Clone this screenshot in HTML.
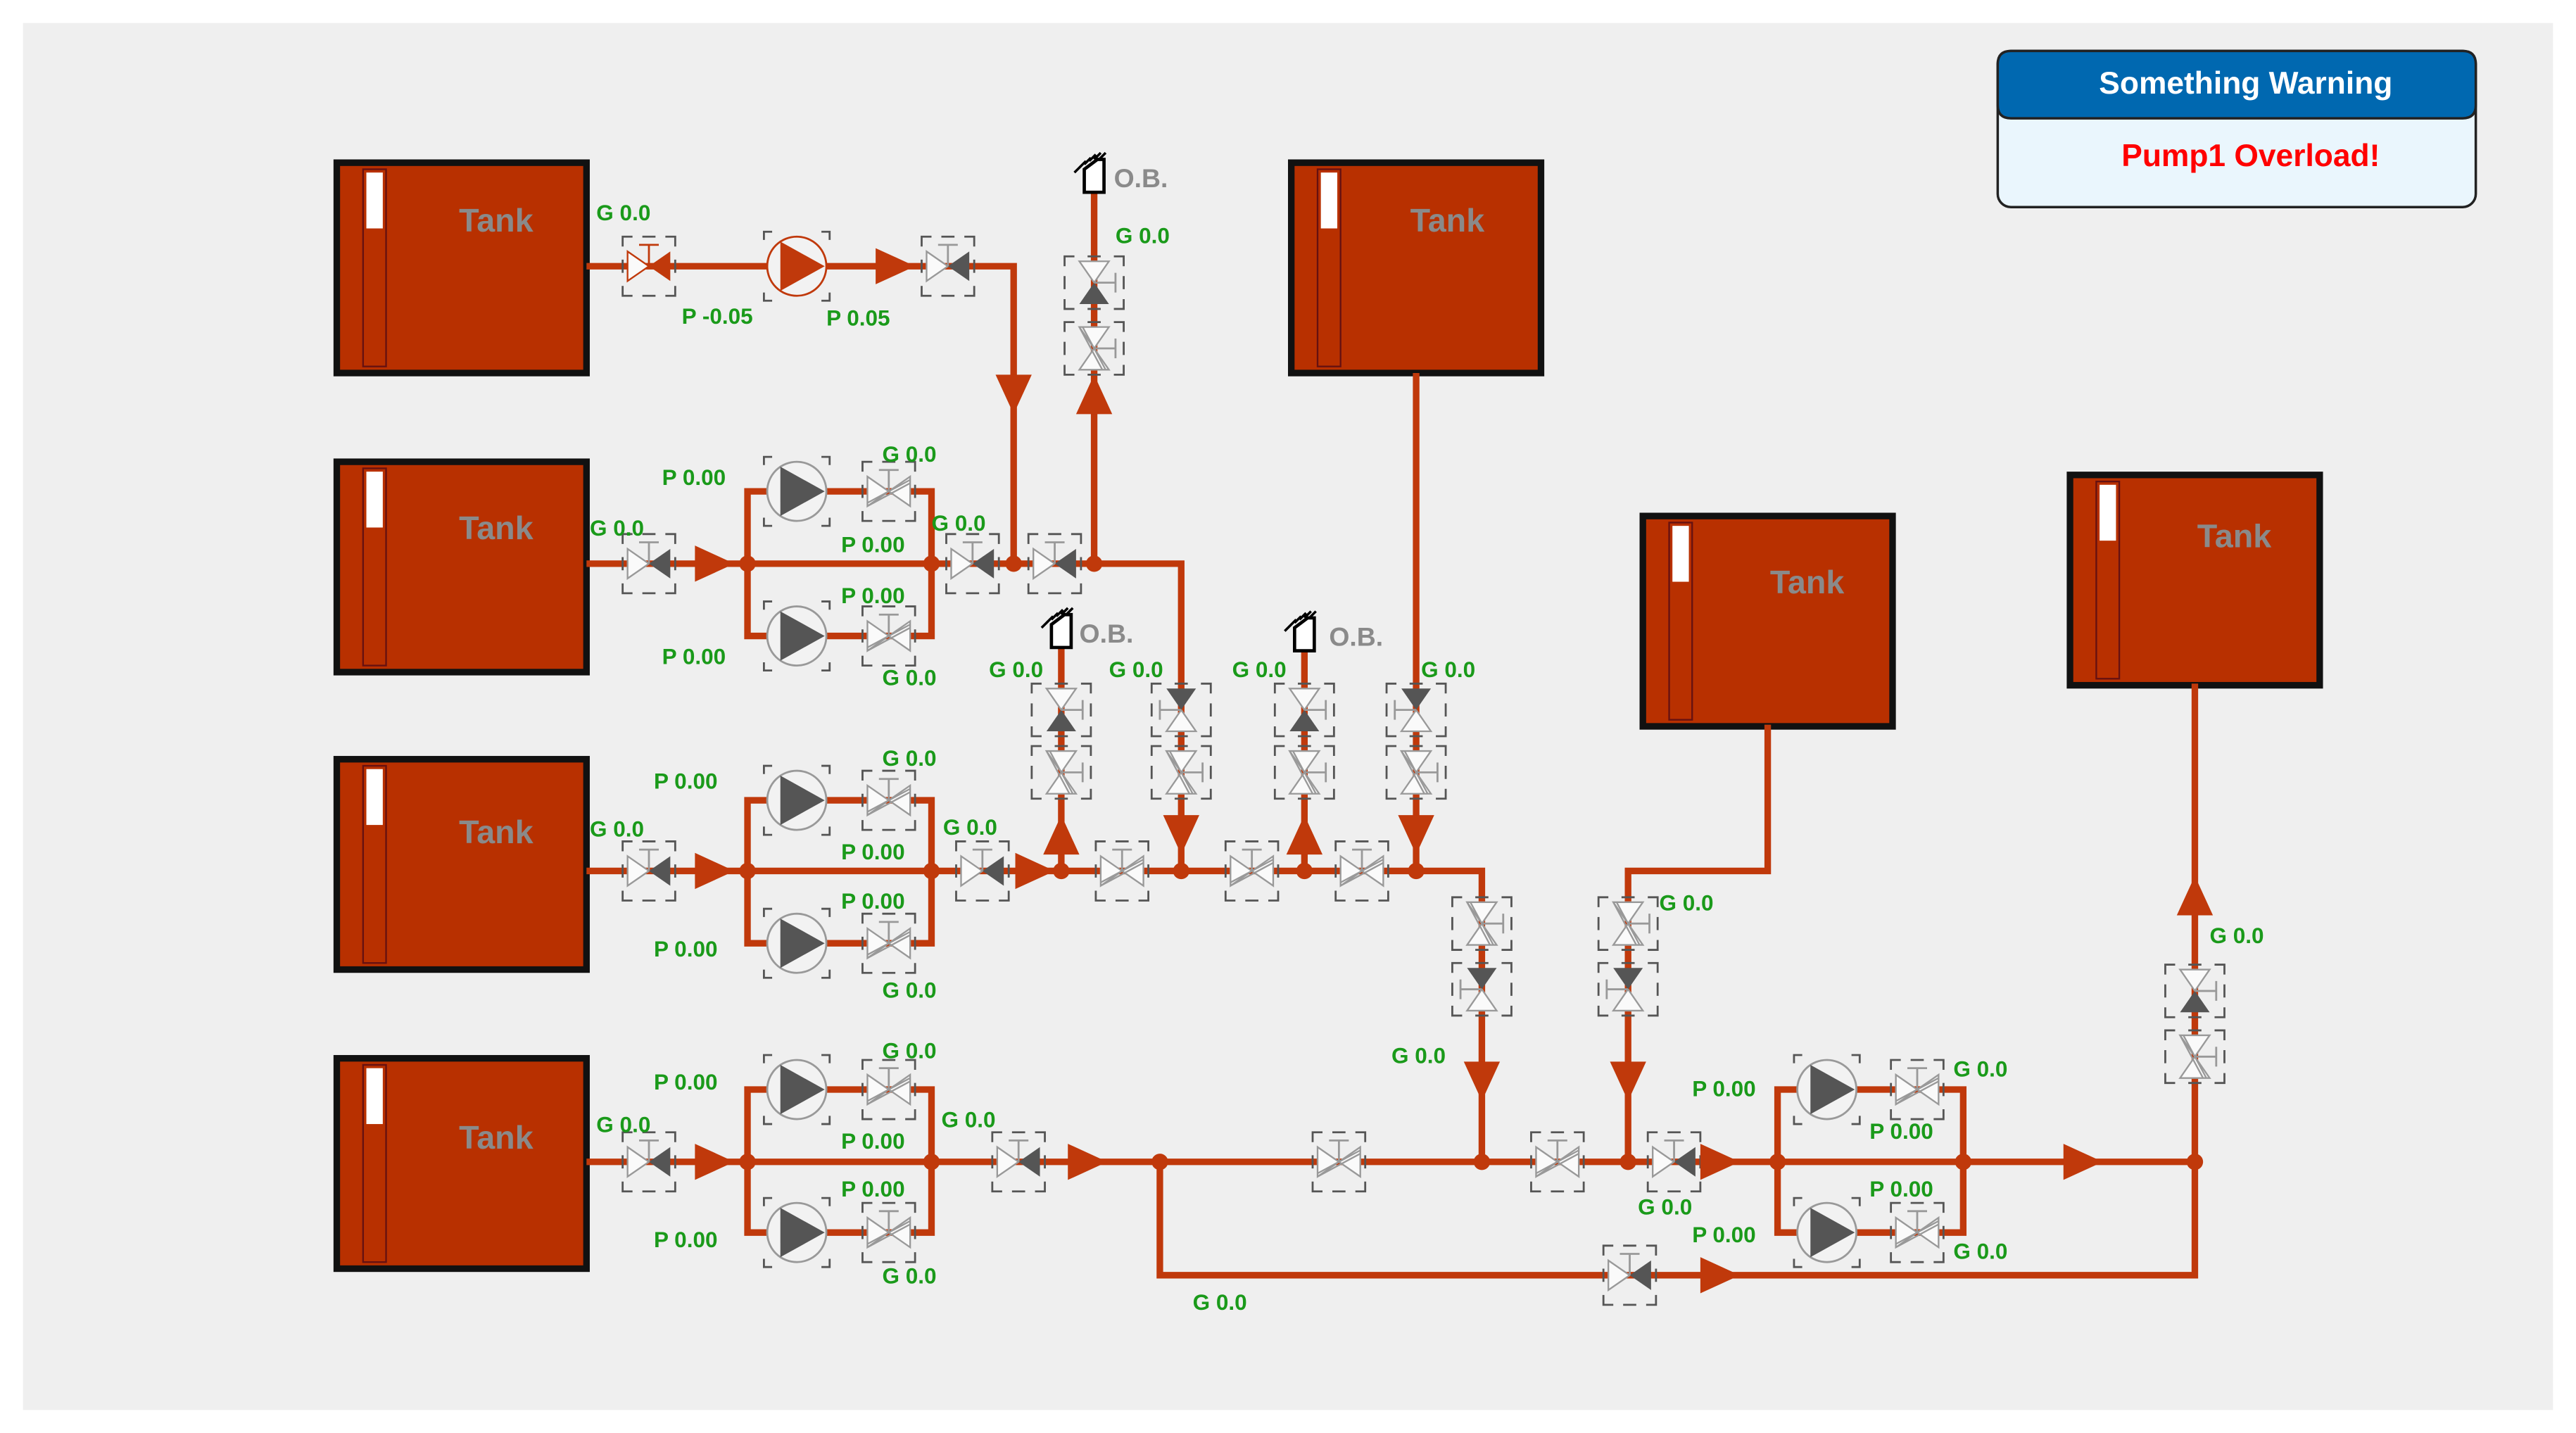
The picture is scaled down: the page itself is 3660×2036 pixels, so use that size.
<!DOCTYPE html>
<html><head><meta charset="utf-8"><style>
html,body{margin:0;padding:0;background:#fff;}
svg{display:block;}
text{font-family:"Liberation Sans",sans-serif;}
.g{fill:#1a9a1a;font-weight:bold;font-size:13.5px;}
.t{fill:#8a8a8a;font-size:20px;font-weight:bold;}
.ob{fill:#8a8a8a;font-size:16px;font-weight:bold;}
.p{stroke:#c0390b;stroke-width:4;fill:none;}
</style></head><body>
<svg width="3660" height="2036" viewBox="0 0 1568 872" preserveAspectRatio="none" xmlns="http://www.w3.org/2000/svg">
<defs>
<g id="br">
<path d="M-16,-12 v-6 h6 M10,-18 h6 v6 M16,12 v6 h-6 M-10,18 h-6 v-6" stroke="#555" stroke-width="1.2" fill="none"/>
<path d="M-4,-18 h8 M-4,18 h8 M-16,-4 v8 M16,-4 v8" stroke="#555" stroke-width="1.2" fill="none"/>
</g>
<g id="vh">
<use href="#br"/>
<polygon points="-13,-9 0,0 -13,9" fill="#fafafa" stroke="#999" stroke-width="1"/>
<polygon points="13,-9 0,0 13,9" fill="#555"/>
<path d="M0,0 V-13 M-6,-13 H6" stroke="#999" stroke-width="1.2"/>
</g>
<g id="vx">
<use href="#br"/>
<polygon points="-13,-9 0,0 -13,9" fill="#fafafa" stroke="#999" stroke-width="1"/>
<polygon points="13,-9 0,0 13,9" fill="#fafafa" stroke="#999" stroke-width="1"/>
<path d="M-13,7 L13,-7 M-13,9 L13,-5" stroke="#999" stroke-width="1"/>
<path d="M0,0 V-13 M-6,-13 H6" stroke="#999" stroke-width="1.2"/>
</g>
<g id="pump">
<path d="M-20,-16 v-5 h5 M15,-21 h5 v5 M20,16 v5 h-5 M-15,21 h-5 v-5" stroke="#555" stroke-width="1.2" fill="none"/>
<circle r="18" fill="#f2f2f2" stroke="#999" stroke-width="1.2"/>
<polygon points="-10,-15 17,0 -10,15" fill="#555"/>
</g>
<polygon id="ar" points="-12,-11 12,0 -12,11" fill="#c0390b"/>
<g id="tank">
<rect x="0" y="0" width="152" height="128" fill="#b83000" stroke="#111" stroke-width="4"/>
<rect x="16" y="4" width="14" height="120" fill="none" stroke="#611" stroke-width="1"/>
<rect x="18" y="6" width="10" height="34" fill="#fff"/>
</g>
<g id="ob">
<path d="M-6,14 V0 L2,-6 H6 V14 Z" fill="#fff" stroke="#000" stroke-width="2"/>
<path d="M-8,-2 L-12,2 M-5,-5 L-9,-1 M-2,-7 L-6,-3 M1,-9 L-3,-5 M4,-10 L0,-6 M7,-10 L3,-6" stroke="#000" stroke-width="1.5"/>
</g>
</defs>
<rect width="1568" height="872" fill="#fff"/>
<rect x="14" y="14" width="1540" height="844" fill="#efefef"/>

<use href="#tank" x="205" y="99"/>
<use href="#tank" x="205" y="281"/>
<use href="#tank" x="205" y="462"/>
<use href="#tank" x="205" y="644"/>
<use href="#tank" x="786" y="99"/>
<use href="#tank" x="1000" y="314"/>
<use href="#tank" x="1260" y="289"/>
<text class="t" x="302" y="141" text-anchor="middle">Tank</text>
<text class="t" x="302" y="328" text-anchor="middle">Tank</text>
<text class="t" x="302" y="513" text-anchor="middle">Tank</text>
<text class="t" x="302" y="699" text-anchor="middle">Tank</text>
<text class="t" x="881" y="141" text-anchor="middle">Tank</text>
<text class="t" x="1100" y="361" text-anchor="middle">Tank</text>
<text class="t" x="1360" y="333" text-anchor="middle">Tank</text>

<path class="p" d="M357,162 H617 V343"/>
<path class="p" d="M357,343 H666 H719 V530"/>
<path class="p" d="M666,343 V115"/>
<path class="p" d="M455,343 V299 H567 V387 H455 Z"/>
<path class="p" d="M357,530 H902 V707"/>
<path class="p" d="M455,530 V487 H567 V574 H455 Z"/>
<path class="p" d="M646,530 V392 M794,530 V392 M862,227 V530"/>
<path class="p" d="M357,707 H1336 V416"/>
<path class="p" d="M455,707 V663 H567 V750 H455 Z"/>
<path class="p" d="M1082,707 V663 H1195 V750 H1082 Z"/>
<path class="p" d="M706,707 V776 H1336 V707"/>
<path class="p" d="M1076,441 V530 H991 V707"/>

<g fill="#c0390b">
<circle cx="455" cy="343" r="5"/><circle cx="567" cy="343" r="5"/><circle cx="617" cy="343" r="5"/><circle cx="666" cy="343" r="5"/>
<circle cx="455" cy="530" r="5"/><circle cx="567" cy="530" r="5"/><circle cx="646" cy="530" r="5"/><circle cx="719" cy="530" r="5"/><circle cx="794" cy="530" r="5"/><circle cx="862" cy="530" r="5"/>
<circle cx="455" cy="707" r="5"/><circle cx="567" cy="707" r="5"/><circle cx="706" cy="707" r="5"/><circle cx="902" cy="707" r="5"/><circle cx="991" cy="707" r="5"/><circle cx="1082" cy="707" r="5"/><circle cx="1195" cy="707" r="5"/><circle cx="1336" cy="707" r="5"/>
</g>

<g transform="translate(395,162)">
<use href="#br"/>
<polygon points="-13,-9 0,0 -13,9" fill="#fafafa" stroke="#c0390b" stroke-width="1"/>
<polygon points="13,-9 0,0 13,9" fill="#c0390b"/>
<path d="M0,0 V-13 M-6,-13 H6" stroke="#c0390b" stroke-width="1.2"/>
</g>
<g transform="translate(485,162)">
<path d="M-20,-16 v-5 h5 M15,-21 h5 v5 M20,16 v5 h-5 M-15,21 h-5 v-5" stroke="#555" stroke-width="1.2" fill="none"/>
<circle r="18" fill="#f2f2f2" stroke="#c0390b" stroke-width="1.2"/>
<polygon points="-10,-15 17,0 -10,15" fill="#c0390b"/>
</g>
<use href="#ar" transform="translate(545,162)"/>
<use href="#vh" transform="translate(577,162)"/>
<use href="#ar" transform="translate(617,240) rotate(90)"/>
<use href="#vh" transform="translate(666,172) rotate(90)"/>
<use href="#vx" transform="translate(666,212) rotate(90)"/>
<use href="#ar" transform="translate(666,240) rotate(-90)"/>
<use href="#ob" transform="translate(666,103)"/>

<use href="#vh" transform="translate(395,343)"/>
<use href="#ar" transform="translate(435,343)"/>
<use href="#pump" transform="translate(485,299)"/>
<use href="#pump" transform="translate(485,387)"/>
<use href="#vx" transform="translate(541,299)"/>
<use href="#vx" transform="translate(541,387)"/>
<use href="#vh" transform="translate(592,343)"/>
<use href="#vh" transform="translate(642,343)"/>

<use href="#ob" transform="translate(646,380)"/>
<use href="#ob" transform="translate(794,382)"/>
<use href="#vh" transform="translate(646,432) rotate(90)"/>
<use href="#vx" transform="translate(646,470) rotate(90)"/>
<use href="#ar" transform="translate(646,508) rotate(-90)"/>
<use href="#vh" transform="translate(719,432) rotate(-90)"/>
<use href="#vx" transform="translate(719,470) rotate(90)"/>
<use href="#ar" transform="translate(719,508) rotate(90)"/>
<use href="#vh" transform="translate(794,432) rotate(90)"/>
<use href="#vx" transform="translate(794,470) rotate(90)"/>
<use href="#ar" transform="translate(794,508) rotate(-90)"/>
<use href="#vh" transform="translate(862,432) rotate(-90)"/>
<use href="#vx" transform="translate(862,470) rotate(90)"/>
<use href="#ar" transform="translate(862,508) rotate(90)"/>

<use href="#vh" transform="translate(395,530)"/>
<use href="#ar" transform="translate(435,530)"/>
<use href="#pump" transform="translate(485,487)"/>
<use href="#pump" transform="translate(485,574)"/>
<use href="#vx" transform="translate(541,487)"/>
<use href="#vx" transform="translate(541,574)"/>
<use href="#vh" transform="translate(598,530)"/>
<use href="#ar" transform="translate(630,530)"/>
<use href="#vx" transform="translate(683,530)"/>
<use href="#vx" transform="translate(762,530)"/>
<use href="#vx" transform="translate(829,530)"/>
<use href="#vx" transform="translate(902,562) rotate(90)"/>
<use href="#vh" transform="translate(902,602) rotate(-90)"/>
<use href="#ar" transform="translate(902,658) rotate(90)"/>
<use href="#vx" transform="translate(991,562) rotate(90)"/>
<use href="#vh" transform="translate(991,602) rotate(-90)"/>
<use href="#ar" transform="translate(991,658) rotate(90)"/>

<use href="#vh" transform="translate(395,707)"/>
<use href="#ar" transform="translate(435,707)"/>
<use href="#pump" transform="translate(485,663)"/>
<use href="#pump" transform="translate(485,750)"/>
<use href="#vx" transform="translate(541,663)"/>
<use href="#vx" transform="translate(541,750)"/>
<use href="#vh" transform="translate(620,707)"/>
<use href="#ar" transform="translate(662,707)"/>
<use href="#vx" transform="translate(815,707)"/>
<use href="#vx" transform="translate(948,707)"/>
<use href="#vh" transform="translate(1019,707)"/>
<use href="#ar" transform="translate(1047,707)"/>
<use href="#pump" transform="translate(1112,663)"/>
<use href="#pump" transform="translate(1112,750)"/>
<use href="#vx" transform="translate(1167,663)"/>
<use href="#vx" transform="translate(1167,750)"/>
<use href="#ar" transform="translate(1268,707)"/>
<use href="#vh" transform="translate(992,776)"/>
<use href="#ar" transform="translate(1047,776)"/>
<use href="#vh" transform="translate(1336,603) rotate(90)"/>
<use href="#vx" transform="translate(1336,643) rotate(90)"/>
<use href="#ar" transform="translate(1336,545) rotate(-90)"/>

<text class="g" x="363" y="134">G 0.0</text>
<text class="g" x="415" y="197">P -0.05</text>
<text class="g" x="503" y="198">P 0.05</text>
<text class="g" x="679" y="148">G 0.0</text>
<text class="ob" x="678" y="114">O.B.</text>
<text class="ob" x="657" y="391">O.B.</text>
<text class="ob" x="809" y="393">O.B.</text>

<text class="g" x="403" y="295">P 0.00</text>
<text class="g" x="537" y="281">G 0.0</text>
<text class="g" x="359" y="326">G 0.0</text>
<text class="g" x="512" y="336">P 0.00</text>
<text class="g" x="567" y="323">G 0.0</text>
<text class="g" x="512" y="367">P 0.00</text>
<text class="g" x="403" y="404">P 0.00</text>
<text class="g" x="537" y="417">G 0.0</text>

<text class="g" x="602" y="412">G 0.0</text>
<text class="g" x="675" y="412">G 0.0</text>
<text class="g" x="750" y="412">G 0.0</text>
<text class="g" x="865" y="412">G 0.0</text>

<text class="g" x="398" y="480">P 0.00</text>
<text class="g" x="537" y="466">G 0.0</text>
<text class="g" x="359" y="509">G 0.0</text>
<text class="g" x="512" y="523">P 0.00</text>
<text class="g" x="574" y="508">G 0.0</text>
<text class="g" x="512" y="553">P 0.00</text>
<text class="g" x="398" y="582">P 0.00</text>
<text class="g" x="537" y="607">G 0.0</text>

<text class="g" x="1010" y="554">G 0.0</text>
<text class="g" x="847" y="647">G 0.0</text>
<text class="g" x="1345" y="574">G 0.0</text>

<text class="g" x="398" y="663">P 0.00</text>
<text class="g" x="537" y="644">G 0.0</text>
<text class="g" x="363" y="689">G 0.0</text>
<text class="g" x="512" y="699">P 0.00</text>
<text class="g" x="573" y="686">G 0.0</text>
<text class="g" x="512" y="728">P 0.00</text>
<text class="g" x="398" y="759">P 0.00</text>
<text class="g" x="537" y="781">G 0.0</text>
<text class="g" x="726" y="797">G 0.0</text>
<text class="g" x="997" y="739">G 0.0</text>
<text class="g" x="1030" y="667">P 0.00</text>
<text class="g" x="1189" y="655">G 0.0</text>
<text class="g" x="1138" y="693">P 0.00</text>
<text class="g" x="1138" y="728">P 0.00</text>
<text class="g" x="1030" y="756">P 0.00</text>
<text class="g" x="1189" y="766">G 0.0</text>

<rect x="1216" y="31" width="291" height="95" rx="8" fill="#eaf6fd" stroke="#222" stroke-width="1.5"/>
<path d="M1224,31 H1499 Q1507,31 1507,39 V64 Q1507,72 1499,72 H1224 Q1216,72 1216,64 V39 Q1216,31 1224,31 Z" fill="#0068b0" stroke="#222" stroke-width="1.5"/>
<text x="1367" y="57" text-anchor="middle" fill="#fff" font-size="19" font-weight="bold">Something Warning</text>
<text x="1370" y="101" text-anchor="middle" fill="#f00" font-size="19" font-weight="bold">Pump1 Overload!</text>
</svg>
</body></html>
